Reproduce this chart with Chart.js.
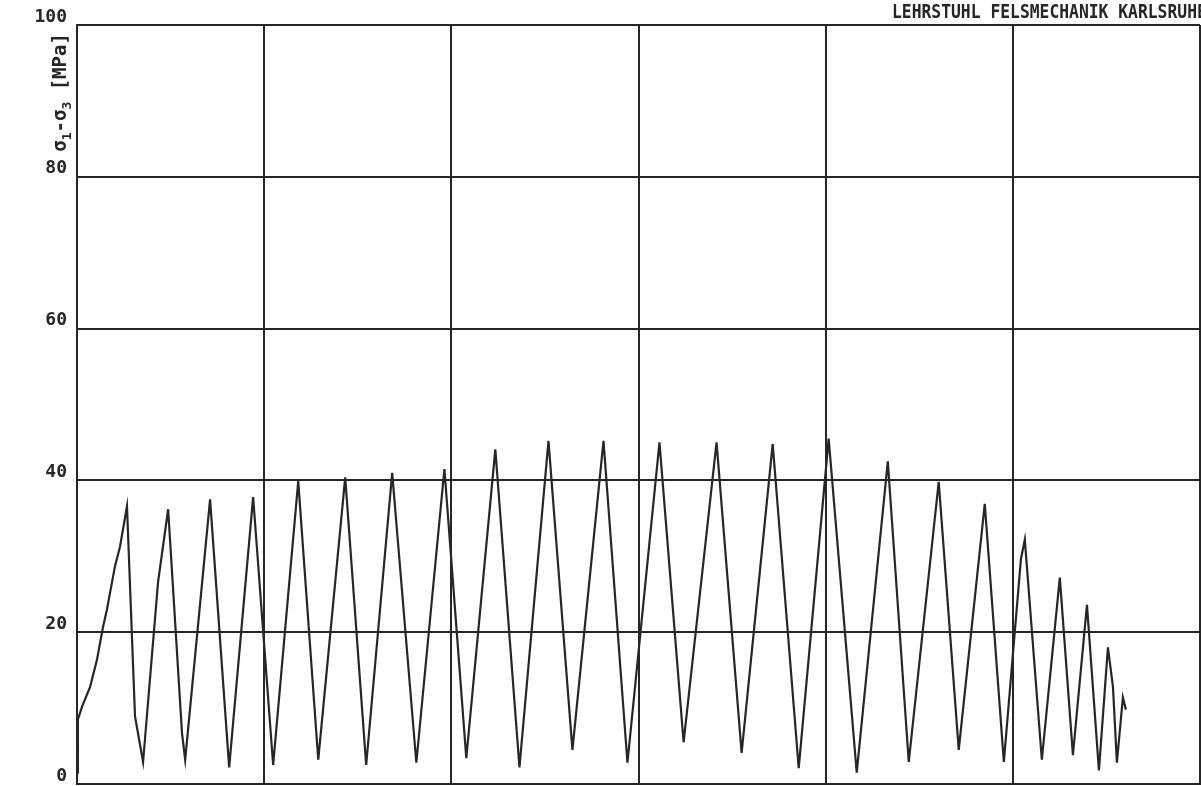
<!DOCTYPE html>
<html>
<head>
  <meta charset="utf-8">
  <title>Felsmechanik Karlsruhe - zyklischer Versuch</title>
  <script src="https://cdn.jsdelivr.net/npm/chart.js"></script>
  <style>
    html, body { margin: 0; padding: 0; background: #fff; overflow: hidden; }
    .wrap { position: relative; width: 1201px; height: 786px; }
  </style>
</head>
<body>
  <div class="wrap">
    <canvas id="chart"></canvas>
  </div>

  <script>
    // Values (x in grid units, y in MPa)
    const strain = [
      0.000, 0.005, 0.027, 0.070, 0.107, 0.139, 0.160, 0.203, 0.230, 0.267,
      0.310, 0.353, 0.433, 0.487, 0.561, 0.578, 0.711, 0.813, 0.941, 1.048,
      1.182, 1.289, 1.433, 1.545, 1.684, 1.813, 1.963, 2.080, 2.235, 2.364,
      2.519, 2.647, 2.813, 2.941, 3.112, 3.241, 3.417, 3.551, 3.717, 3.856,
      4.016, 4.166, 4.332, 4.444, 4.604, 4.711, 4.850, 4.952, 5.043, 5.064,
      5.155, 5.251, 5.321, 5.396, 5.460, 5.508, 5.535, 5.556, 5.588, 5.604
    ];
    const stress = [
      1.5, 8.5, 10.2, 12.8, 16.4, 20.7, 23.0, 28.7, 31.3, 36.6,
      8.9, 2.9, 26.6, 36.2, 6.7, 3.2, 37.5, 2.2, 37.8, 2.5,
      39.9, 3.2, 40.4, 2.5, 41.0, 2.8, 41.5, 3.4, 44.1, 2.2,
      45.2, 4.5, 45.2, 2.8, 45.0, 5.5, 45.0, 4.1, 44.8, 2.1,
      45.5, 1.5, 42.5, 2.9, 39.8, 4.5, 36.9, 2.9, 29.6, 32.2,
      3.2, 27.2, 3.8, 23.6, 1.8, 18.0, 12.8, 2.8, 11.4, 9.8
    ];
    const yTicks = [0, 20, 40, 60, 80, 100];
    const headerText = 'LEHRSTUHL FELSMECHANIK KARLSRUHE';
    // axis caption pieces: [text, subscript?]
    const yAxisParts = [['σ', false], ['1', true], ['-σ', false], ['3', true], [' [MPa]', false]];

    const ink = '#262626';
    const mono = '"DejaVu Sans Mono", monospace';

    // header and rotated axis caption, plotter style
    const captions = {
      id: 'captions',
      afterDraw(chart) {
        const ctx = chart.ctx;
        const y = chart.scales.y;
        ctx.save();
        ctx.fillStyle = ink;
        ctx.textBaseline = 'alphabetic';
        ctx.textAlign = 'left';
        ctx.save();
        ctx.translate(892, 18);
        ctx.scale(0.86, 1);
        ctx.font = 'bold 19px ' + mono;
        ctx.fillText(headerText, 0, 0);
        ctx.restore();

        // caption reads bottom-to-top, starting near y=150
        ctx.translate(66, y.getPixelForValue(83.3));
        ctx.rotate(-Math.PI / 2);
        let cx = 0;
        yAxisParts.forEach(([txt, sub]) => {
          ctx.font = (sub ? 'bold 13px ' : 'bold 19px ') + mono;
          ctx.fillText(txt, cx, sub ? 5 : 0);
          cx += ctx.measureText(txt).width;
        });
        ctx.restore();
      }
    };

    new Chart(document.getElementById('chart'), {
      type: 'line',
      data: {
        datasets: [{
          data: strain.map((x, i) => ({ x, y: stress[i] })),
          borderColor: ink,
          borderWidth: 2.2,
          pointRadius: 0,
          tension: 0,
          fill: false
        }]
      },
      options: {
        responsive: true,
        maintainAspectRatio: false,
        animation: false,
        layout: { padding: { top: 25, right: 1, bottom: 2, left: 0 } },
        plugins: {
          legend: { display: false },
          tooltip: { enabled: false }
        },
        scales: {
          x: {
            type: 'linear',
            min: 0,
            max: 6,
            ticks: { stepSize: 1, display: false },
            grid: { color: ink, lineWidth: 2, drawTicks: false },
            border: { color: ink, width: 2 },
            afterFit(scale) { scale.height = 0; scale.paddingLeft = 0; scale.paddingRight = 0; }
          },
          y: {
            min: 0,
            max: 100,
            afterBuildTicks(scale) { scale.ticks = yTicks.map(v => ({ value: v })); },
            ticks: {
              padding: 10,
              labelOffset: -8,
              color: ink,
              font: { family: mono, size: 18, weight: 'bold' }
            },
            grid: { color: ink, lineWidth: 2, drawTicks: false },
            border: { color: ink, width: 2 },
            afterFit(scale) {
              scale.width = 77;
              scale.paddingTop = 0;
              scale.paddingBottom = 0;
            }
          }
        }
      },
      plugins: [captions]
    });
  </script>
</body>
</html>
